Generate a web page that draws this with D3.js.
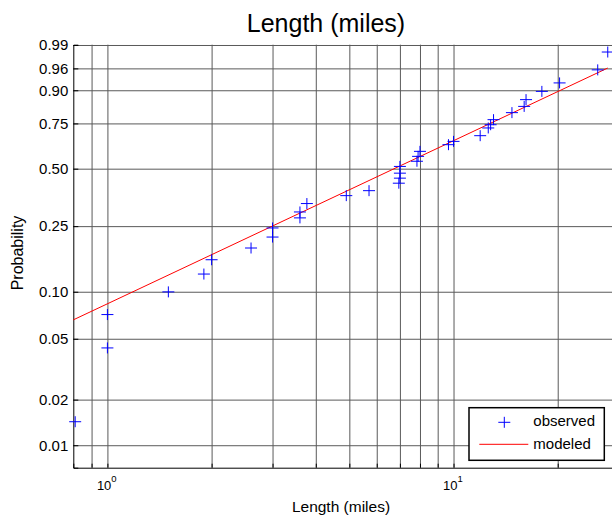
<!DOCTYPE html>
<html>
<head>
<meta charset="utf-8">
<script src="https://cdnjs.cloudflare.com/ajax/libs/d3/7.8.5/d3.min.js"></script>
<style>
  body { margin: 0; background: #fff; }
  svg { font-family: "Liberation Sans", Arial, Helvetica, sans-serif; }
</style>
</head>
<body>
<svg id="drawing_region"></svg>
<script>
// observed lengths (miles) and their plotting probabilities
const lengths = [0.807, 1.0, 1.0, 1.5, 1.9, 2.0, 2.6, 3.0, 3.0, 3.6, 3.6, 3.77, 4.9, 5.7,
  6.95, 7.0, 7.0, 7.0, 7.84, 7.9, 8.0, 9.67, 10.0, 11.94, 12.6, 12.8, 13.05, 14.75,
  16.0, 16.2, 18.0, 20.25, 26.1, 27.9];
const probs = [0.0143, 0.0436, 0.0716, 0.0998, 0.129, 0.158, 0.186, 0.216, 0.244, 0.2785,
  0.3005, 0.334, 0.368, 0.3905, 0.426, 0.451, 0.4765, 0.512, 0.540, 0.567, 0.595,
  0.6325, 0.651, 0.683, 0.7255, 0.743, 0.7696, 0.805, 0.8345, 0.864, 0.896, 0.924,
  0.957, 0.984];

// modeled (fitted) line end points
const modelX = [0.797, 27.9];
const modelP = [0.0662, 0.9607];

// axes
const xDomain = [0.797, 28.7];
const pDomain = [0.0071, 0.9902];
const xGrid = [0.9, 1, 2, 3, 4, 5, 6, 7, 8, 9, 10, 20];
const xMajor = [1, 10];
const xMajorExp = ["0", "1"];
const pTicks = [0.01, 0.02, 0.05, 0.10, 0.25, 0.50, 0.75, 0.90, 0.96, 0.99];
const pLabels = ["0.01", "0.02", "0.05", "0.10", "0.25", "0.50", "0.75", "0.90", "0.96", "0.99"];

class ProbPlot {
  constructor( config ) {
    this.config = config;
    this.init();
  }
  init() {
    let self = this;
    const c = self.config;
    self.inner_w = c.width - c.margin.left - c.margin.right;
    self.inner_h = c.height - c.margin.top - c.margin.bottom;

    self.svg = d3.select( c.parent )
      .attr('width', c.width)
      .attr('height', c.height);
    self.chart = self.svg.append('g')
      .attr('transform', `translate(${c.margin.left}, ${c.margin.top})`);

    // weibull probability transform
    self.wbl = p => Math.log( -Math.log( 1 - p ) );
    self.x = d3.scaleLog().domain(xDomain).range([0, self.inner_w]);
    self.t = d3.scaleLinear().domain(pDomain.map(self.wbl)).range([self.inner_h, 0]);
    self.y = p => self.t( self.wbl(p) );
  }
  render() {
    let self = this;
    const w = self.inner_w, h = self.inner_h;

    // grid
    self.chart.append('g')
      .attr('class', 'ygrid')
      .call( d3.axisLeft(self.t).tickValues(pTicks.map(self.wbl)).tickSize(-w).tickFormat('') )
      .call( g => g.select('.domain').remove() )
      .selectAll('line').attr('stroke', '#5a5a5a').attr('stroke-width', 1);
    self.chart.append('g')
      .attr('class', 'xgrid')
      .call( d3.axisBottom(self.x).tickValues(xGrid).tickSize(h).tickFormat('') )
      .call( g => g.select('.domain').remove() )
      .selectAll('line').attr('stroke', '#5a5a5a').attr('stroke-width', 1);

    // y axis
    const yAxis = self.chart.append('g')
      .call( d3.axisLeft(self.t)
        .tickValues(pTicks.map(self.wbl))
        .tickSize(-5).tickPadding(5)
        .tickFormat( (d, i) => pLabels[i] ) );
    yAxis.select('.domain').attr('stroke', '#000');
    yAxis.selectAll('text').attr('font-size', '15px').attr('fill', '#000')
      .attr('font-family', '"Liberation Sans", Arial, sans-serif');

    // x axis
    const xAxis = self.chart.append('g')
      .attr('transform', `translate(0, ${h})`)
      .call( d3.axisBottom(self.x).tickValues(xGrid).tickSize(-4).tickFormat('') );
    xAxis.select('.domain').attr('stroke', '#000');

    const xl = self.chart.append('g')
      .selectAll('text')
      .data(xMajor)
      .enter()
      .append('text')
      .attr('x', d => self.x(d) - 10.5)
      .attr('y', h + 22.5)
      .attr('font-size', '13px');
    xl.append('tspan').text('10');
    xl.append('tspan')
      .attr('dy', -8.5)
      .attr('font-size', '9.5px')
      .text( (d, i) => xMajorExp[i] );

    // modeled line
    const line = d3.line()
      .x( (d, i) => self.x(modelX[i]) )
      .y( (d, i) => self.y(modelP[i]) );
    self.chart.append('path')
      .attr('d', line(modelX))
      .attr('fill', 'none')
      .attr('stroke', '#ff0000')
      .attr('stroke-width', 1);

    // observed points
    const plus = d3.symbol().type(d3.symbolCross);
    self.chart.append('g')
      .selectAll('path')
      .data(lengths)
      .enter()
      .append('path')
      .attr('d', (d, i) => `M${self.x(d) - 6},${self.y(probs[i])}h12M${self.x(d)},${self.y(probs[i]) - 5.5}v11`)
      .attr('stroke', '#0000ff')
      .attr('stroke-width', 1)
      .attr('fill', 'none');

    // titles
    self.svg.append('text')
      .attr('x', 326).attr('y', 32)
      .attr('text-anchor', 'middle')
      .attr('font-size', '25px')
      .text('Length (miles)');
    self.svg.append('text')
      .attr('x', 341).attr('y', 511.5)
      .attr('text-anchor', 'middle')
      .attr('font-size', '15.5px')
      .text('Length (miles)');
    self.svg.append('text')
      .attr('transform', 'translate(22.5, 253) rotate(-90)')
      .attr('text-anchor', 'middle')
      .attr('font-size', '16px')
      .text('Probability');

    // legend
    const lg = self.svg.append('g');
    lg.append('rect')
      .attr('x', 469).attr('y', 407.7)
      .attr('width', 135.3).attr('height', 52.6)
      .attr('fill', '#fff')
      .attr('stroke', '#000')
      .attr('stroke-width', 1.5);
    lg.append('path')
      .attr('d', 'M498.3,422.3h12M504.3,416.8v11')
      .attr('stroke', '#0000ff').attr('fill', 'none');
    lg.append('line')
      .attr('x1', 479.3).attr('x2', 528.3)
      .attr('y1', 444.3).attr('y2', 444.3)
      .attr('stroke', '#ff0000');
    lg.append('text').attr('x', 533.3).attr('y', 426).attr('font-size', '15px').text('observed');
    lg.append('text').attr('x', 533.3).attr('y', 448.5).attr('font-size', '15px').text('modeled');
  }
}

const plot = new ProbPlot({
  parent: '#drawing_region',
  width: 612,
  height: 519,
  margin: {top: 44.7, right: 0, bottom: 51.3, left: 73.3}
});
plot.render();
</script>
</body>
</html>
